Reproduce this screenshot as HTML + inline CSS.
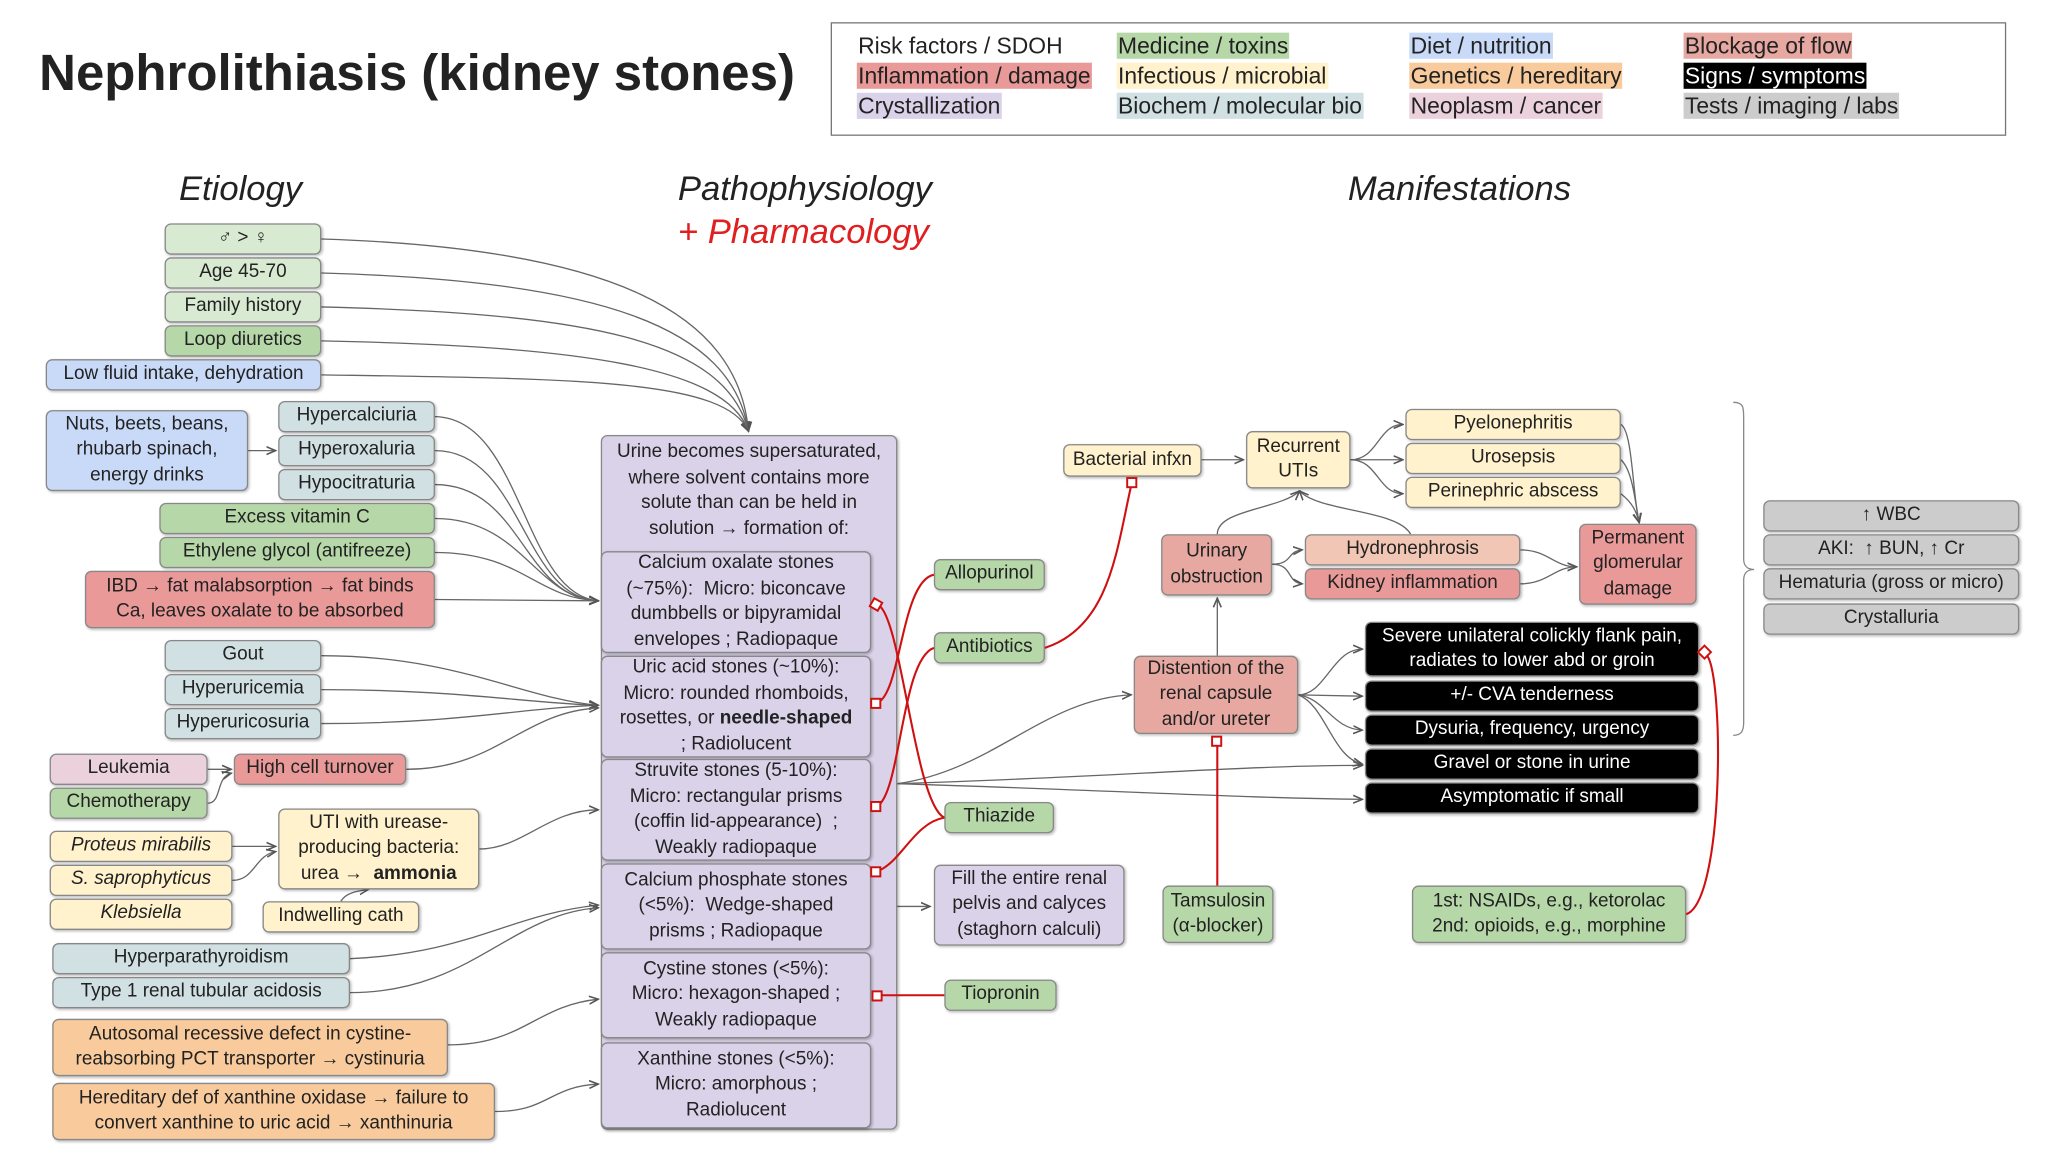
<!DOCTYPE html>
<html><head><meta charset="utf-8">
<style>
html,body{margin:0;padding:0;background:#fff;width:2048px;height:1152px;overflow:hidden}
#w{position:absolute;left:0;top:0;width:1568px;height:882px;transform:scale(1.30612);transform-origin:0 0;font-family:"Liberation Sans",sans-serif;color:#222}
.b{position:absolute;box-sizing:border-box;border:1px solid #888;border-radius:5px;display:flex;align-items:center;justify-content:center;text-align:center;font-size:14.5px;line-height:19.5px;box-shadow:1px 1px 2px rgba(0,0,0,.25)}
.rf{background:#d9ead3}.md{background:#b6d7a8}.dt{background:#c9daf8}.bc{background:#d0e0e3}
.cr{background:#d9d2e9}.rd{background:#ea9999}.yl{background:#fff2cc}.or{background:#f9cb9c}
.pk{background:#ead1dc}.bl{background:#e6a8a0}.gy{background:#cccccc}.sg{background:#000;color:#fff}
.h{position:absolute;font-style:italic;font-size:26.5px}
.lg{position:absolute;font-size:17.5px;line-height:20px;padding:0 1px}
svg{position:absolute;left:0;top:0}
</style></head><body><div id="w">
<div style="position:absolute;left:30px;top:35px;font-size:39px;font-weight:bold">Nephrolithiasis (kidney stones)</div>
<div style="position:absolute;left:636px;top:17px;width:900px;height:87px;border:1px solid #777;box-sizing:border-box"></div>
<span class="lg" style="left:656px;top:25px">Risk factors / SDOH</span>
<span class="lg rd" style="left:656px;top:48px">Inflammation / damage</span>
<span class="lg cr" style="left:656px;top:71px">Crystallization</span>
<span class="lg md" style="left:855px;top:25px">Medicine / toxins</span>
<span class="lg yl" style="left:855px;top:48px">Infectious / microbial</span>
<span class="lg bc" style="left:855px;top:71px">Biochem / molecular bio</span>
<span class="lg dt" style="left:1079px;top:25px">Diet / nutrition</span>
<span class="lg or" style="left:1079px;top:48px">Genetics / hereditary</span>
<span class="lg pk" style="left:1079px;top:71px">Neoplasm / cancer</span>
<span class="lg bl" style="left:1289px;top:25px">Blockage of flow</span>
<span class="lg sg" style="left:1289px;top:48px">Signs / symptoms</span>
<span class="lg gy" style="left:1289px;top:71px">Tests / imaging / labs</span>

<div class="h" style="left:137px;top:129px">Etiology</div>
<div class="h" style="left:519px;top:129px">Pathophysiology</div>
<div class="h" style="left:519px;top:162px;color:#e02020">+ Pharmacology</div>
<div class="h" style="left:1032px;top:129px">Manifestations</div>

<svg width="1568" height="882" viewBox="0 0 1568 882">
<defs><marker id="a" markerWidth="8" markerHeight="8" refX="7" refY="4" orient="auto" markerUnits="userSpaceOnUse"><path d="M0,1 L7,4 L0,7" fill="none" stroke="#555" stroke-width="1.2"/></marker></defs>
<g fill="none" stroke="#666" stroke-width="1" marker-end="url(#a)">
<path d="M246 183 C470 190 565 240 573 330"/>
<path d="M246 209 C460 215 560 250 573 330"/>
<path d="M246 235 C450 240 555 260 573 330"/>
<path d="M246 261 C440 265 555 280 573 330"/>
<path d="M246 287 C440 290 555 290 573 330"/>
<path d="M190 345 L211 345"/>
<path d="M333 319 C400 320 400 455 458 460"/>
<path d="M333 345 C400 345 400 458 458 460"/>
<path d="M333 371 C400 371 400 458 458 460"/>
<path d="M333 397 C400 397 410 458 458 460"/>
<path d="M333 423 C400 423 410 458 458 460"/>
<path d="M333 459 L458 460"/>
<path d="M246 502 C350 502 400 535 458 540"/>
<path d="M246 528 C350 528 400 538 458 540"/>
<path d="M246 554 C350 554 400 542 458 540"/>
<path d="M159 589 L177 589"/>
<path d="M159 615 C170 615 165 595 177 592"/>
<path d="M311 589 C380 589 400 545 458 542"/>
<path d="M178 648 L211 648"/>
<path d="M178 674 C195 674 195 655 211 652"/>
<path d="M367 650 C400 650 420 620 458 620"/>
<path d="M261 690 C265 683 275 682 282 681"/>
<path d="M268 734 C360 730 390 700 458 693"/>
<path d="M268 760 C360 760 390 700 458 695"/>
<path d="M343 800 C400 800 410 770 458 765"/>
<path d="M379 851 C420 851 420 832 458 830"/>
<path d="M667 694 L712 694"/>
<path d="M687 600 C760 590 800 535 866 532"/>
<path d="M687 600 C850 595 950 586 1043 586"/>
<path d="M687 600 C850 605 950 611 1043 612"/>
<path d="M994 532 C1015 532 1020 497 1043 497"/>
<path d="M994 532 L1043 533"/>
<path d="M994 532 C1015 535 1020 558 1043 559"/>
<path d="M994 532 C1015 540 1020 580 1043 585"/>
<path d="M932 502 L932 458"/>
<path d="M932 409 C932 390 980 390 995 376"/>
<path d="M1080 409 C1070 390 1010 392 995 376"/>
<path d="M974 432 C990 432 985 422 997 421"/>
<path d="M974 432 C990 432 985 446 997 447"/>
<path d="M1164 421 C1185 421 1190 434 1207 434"/>
<path d="M1164 447 C1185 447 1190 434 1207 434"/>
<path d="M920 352 L952 352"/>
<path d="M1034 352 C1055 352 1055 325 1074 325"/>
<path d="M1034 352 L1074 352"/>
<path d="M1034 352 C1055 352 1055 378 1074 378"/>
<path d="M1241 325 C1250 330 1250 380 1255 400"/>
<path d="M1241 352 C1250 360 1252 385 1255 400"/>
<path d="M1241 378 C1250 385 1253 392 1255 400"/>
</g>
<path d="M1327 308 C1335 308 1335 312 1335 320 L1335 428 C1335 435 1340 436 1343 436 C1340 436 1335 437 1335 444 L1335 553 C1335 560 1333 563 1327 563" fill="none" stroke="#888"/>
</svg>

<div class="b rf" style="left:126px;top:171px;width:120px;height:24px">♂ &gt; ♀</div>
<div class="b rf" style="left:126px;top:197px;width:120px;height:24px">Age 45-70</div>
<div class="b rf" style="left:126px;top:223px;width:120px;height:24px">Family history</div>
<div class="b md" style="left:126px;top:249px;width:120px;height:24px">Loop diuretics</div>
<div class="b dt" style="left:35px;top:275px;width:211px;height:24px">Low fluid intake, dehydration</div>
<div class="b dt" style="left:35px;top:314px;width:155px;height:62px">Nuts, beets, beans,<br>rhubarb spinach,<br>energy drinks</div>
<div class="b bc" style="left:213px;top:307px;width:120px;height:24px">Hypercalciuria</div>
<div class="b bc" style="left:213px;top:333px;width:120px;height:24px">Hyperoxaluria</div>
<div class="b bc" style="left:213px;top:359px;width:120px;height:24px">Hypocitraturia</div>
<div class="b md" style="left:122px;top:385px;width:211px;height:24px">Excess vitamin C</div>
<div class="b md" style="left:122px;top:411px;width:211px;height:24px">Ethylene glycol (antifreeze)</div>
<div class="b rd" style="left:65px;top:437px;width:268px;height:44px">IBD → fat malabsorption → fat binds<br>Ca, leaves oxalate to be absorbed</div>
<div class="b bc" style="left:126px;top:490px;width:120px;height:24px">Gout</div>
<div class="b bc" style="left:126px;top:516px;width:120px;height:24px">Hyperuricemia</div>
<div class="b bc" style="left:126px;top:542px;width:120px;height:24px">Hyperuricosuria</div>
<div class="b pk" style="left:38px;top:577px;width:121px;height:24px">Leukemia</div>
<div class="b rd" style="left:179px;top:577px;width:132px;height:24px">High cell turnover</div>
<div class="b md" style="left:38px;top:603px;width:121px;height:24px">Chemotherapy</div>
<div class="b yl" style="left:38px;top:636px;width:140px;height:24px;font-style:italic">Proteus mirabilis</div>
<div class="b yl" style="left:38px;top:662px;width:140px;height:24px;font-style:italic">S. saprophyticus</div>
<div class="b yl" style="left:38px;top:688px;width:140px;height:24px;font-style:italic">Klebsiella</div>
<div class="b yl" style="left:213px;top:619px;width:154px;height:62px"><span>UTI with urease-<br>producing bacteria:<br>urea → <b>&nbsp;ammonia</b></span></div>
<div class="b yl" style="left:201px;top:690px;width:120px;height:24px">Indwelling cath</div>
<div class="b bc" style="left:40px;top:722px;width:228px;height:24px">Hyperparathyroidism</div>
<div class="b bc" style="left:40px;top:748px;width:228px;height:24px">Type 1 renal tubular acidosis</div>
<div class="b or" style="left:40px;top:780px;width:303px;height:44px">Autosomal recessive defect in cystine-<br>reabsorbing PCT transporter → cystinuria</div>
<div class="b or" style="left:40px;top:829px;width:339px;height:44px">Hereditary def of xanthine oxidase → failure to<br>convert xanthine to uric acid → xanthinuria</div>

<div class="b cr" style="left:460px;top:333px;width:227px;height:532px;align-items:flex-start;padding-top:3px">Urine becomes supersaturated,<br>where solvent contains more<br>solute than can be held in<br>solution → formation of:</div>
<div class="b cr" style="left:460px;top:422px;width:207px;height:78px">Calcium oxalate stones<br>(~75%): &nbsp;Micro: biconcave<br>dumbbells or bipyramidal<br>envelopes ; Radiopaque</div>
<div class="b cr" style="left:460px;top:502px;width:207px;height:78px"><span>Uric acid stones (~10%):<br>Micro: rounded rhomboids,<br>rosettes, or <b>needle-shaped</b><br>; Radiolucent</span></div>
<div class="b cr" style="left:460px;top:581px;width:207px;height:78px">Struvite stones (5-10%):<br>Micro: rectangular prisms<br>(coffin lid-appearance) &nbsp;;<br>Weakly radiopaque</div>
<div class="b cr" style="left:460px;top:661px;width:207px;height:66px">Calcium phosphate stones<br>(&lt;5%): &nbsp;Wedge-shaped<br>prisms ; Radiopaque</div>
<div class="b cr" style="left:460px;top:729px;width:207px;height:66px">Cystine stones (&lt;5%):<br>Micro: hexagon-shaped ;<br>Weakly radiopaque</div>
<div class="b cr" style="left:460px;top:798px;width:207px;height:66px">Xanthine stones (&lt;5%):<br>Micro: amorphous ;<br>Radiolucent</div>

<div class="b md" style="left:715px;top:428px;width:85px;height:24px">Allopurinol</div>
<div class="b md" style="left:715px;top:484px;width:85px;height:24px">Antibiotics</div>
<div class="b md" style="left:723px;top:614px;width:84px;height:24px">Thiazide</div>
<div class="b cr" style="left:715px;top:662px;width:146px;height:62px">Fill the entire renal<br>pelvis and calyces<br>(staghorn calculi)</div>
<div class="b md" style="left:723px;top:750px;width:86px;height:24px">Tiopronin</div>
<div class="b md" style="left:890px;top:678px;width:85px;height:44px">Tamsulosin<br>(α-blocker)</div>
<div class="b md" style="left:1081px;top:678px;width:210px;height:44px">1st: NSAIDs, e.g., ketorolac<br>2nd: opioids, e.g., morphine</div>

<div class="b yl" style="left:814px;top:340px;width:106px;height:25px">Bacterial infxn</div>
<div class="b yl" style="left:954px;top:330px;width:80px;height:44px">Recurrent<br>UTIs</div>
<div class="b yl" style="left:1076px;top:313px;width:165px;height:24px">Pyelonephritis</div>
<div class="b yl" style="left:1076px;top:339px;width:165px;height:24px">Urosepsis</div>
<div class="b yl" style="left:1076px;top:365px;width:165px;height:24px">Perinephric abscess</div>
<div class="b bl" style="left:889px;top:409px;width:85px;height:47px">Urinary<br>obstruction</div>
<div class="b" style="left:999px;top:409px;width:165px;height:24px;background:#f2c6b4">Hydronephrosis</div>
<div class="b rd" style="left:999px;top:435px;width:165px;height:24px">Kidney inflammation</div>
<div class="b rd" style="left:1209px;top:401px;width:90px;height:62px">Permanent<br>glomerular<br>damage</div>
<div class="b bl" style="left:868px;top:502px;width:126px;height:60px">Distention of the<br>renal capsule<br>and/or ureter</div>
<div class="b sg" style="left:1045px;top:476px;width:256px;height:42px">Severe unilateral colickly flank pain,<br>radiates to lower abd or groin</div>
<div class="b sg" style="left:1045px;top:521px;width:256px;height:24px">+/- CVA tenderness</div>
<div class="b sg" style="left:1045px;top:547px;width:256px;height:24px">Dysuria, frequency, urgency</div>
<div class="b sg" style="left:1045px;top:573px;width:256px;height:24px">Gravel or stone in urine</div>
<div class="b sg" style="left:1045px;top:599px;width:256px;height:24px">Asymptomatic if small</div>
<div class="b gy" style="left:1350px;top:383px;width:196px;height:24px">↑ WBC</div>
<div class="b gy" style="left:1350px;top:409px;width:196px;height:24px">AKI: &nbsp;↑ BUN, ↑ Cr</div>
<div class="b gy" style="left:1350px;top:435px;width:196px;height:24px">Hematuria (gross or micro)</div>
<div class="b gy" style="left:1350px;top:462px;width:196px;height:24px">Crystalluria</div>

<svg width="1568" height="882" viewBox="0 0 1568 882">
<g fill="none" stroke="#d01010" stroke-width="1.6">
<path d="M715 440 C690 445 690 530 672 538"/>
<path d="M715 496 C690 505 690 605 672 617"/>
<path d="M723 626 C700 630 690 660 672 667"/>
<path d="M723 626 C700 615 690 470 672 463"/>
<path d="M723 762 L674 762"/>
<path d="M800 496 C850 480 855 420 866 372"/>
<path d="M932 678 L932 570"/>
<path d="M1291 700 C1320 690 1320 520 1307 502"/>
</g>
<g fill="#fff" stroke="#d01010" stroke-width="1.5">
<rect x="667" y="459" width="7" height="7" transform="rotate(30 670 463)"/>
<rect x="667" y="535" width="7" height="7"/>
<rect x="667" y="614" width="7" height="7"/>
<rect x="667" y="664" width="7" height="7"/>
<rect x="668" y="759" width="7" height="7"/>
<rect x="863" y="366" width="7" height="7"/>
<rect x="928" y="564" width="7" height="7"/>
<rect x="1301" y="496" width="7" height="7" transform="rotate(45 1305 500)"/>
</g>
</svg>
</div></body></html>
